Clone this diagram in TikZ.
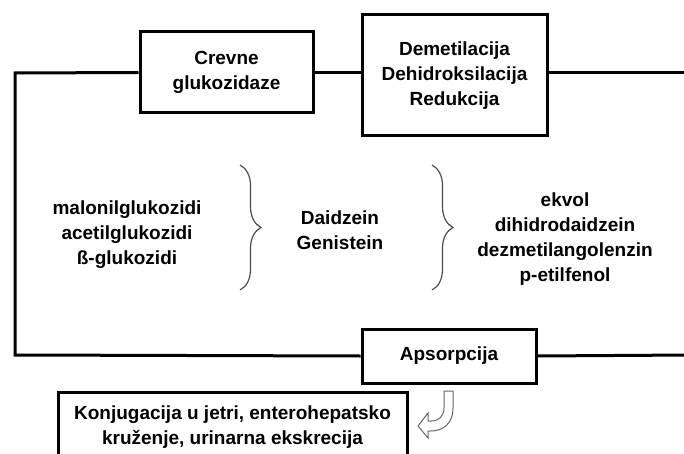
\documentclass[tikz,border=0pt]{standalone}
\usepackage{fontspec}
\setmainfont{Liberation Sans}
\usetikzlibrary{decorations.pathreplacing}

\begin{document}
\begin{tikzpicture}
[x=1pt,y=-1pt,
box/.style={draw,line width=3pt,align=center,inner sep=0pt,
  font=\bfseries\fontsize{19}{25}\selectfont},
label/.style={align=center,font=\bfseries\fontsize{19}{25}\selectfont},
link/.style={line width=3pt,line join=miter},
brace/.style={decorate,decoration={brace,amplitude=21pt},draw=black!70,line width=1.2pt}]
\useasboundingbox (0,0) rectangle (684,454);
\node[box,minimum width=173pt,minimum height=81pt] (crevne) at (226.5,72.5) {Crevne\\glukozidaze};
\node[box,minimum width=185pt,minimum height=121pt] (demet) at (454.5,75.5) {Demetilacija\\Dehidroksilacija\\Redukcija};
\node[box,minimum width=174pt,minimum height=54pt] (apsorp) at (449,356) {Apsorpcija};
\node[box,minimum width=349pt,minimum height=71pt] (konj) at (232.5,427.5) {Konjugacija u jetri, enterohepatsko\\kruženje, urinarna ekskrecija};
\node[label] (glikozidi) at (127,235) {malonilglukozidi\\acetilglukozidi\\ß-glukozidi};
\node[label] (aglikoni) at (340,230.5) {Daidzein\\Genistein};
\node[label] (metaboliti) at (565,239.5) {ekvol\\dihidrodaidzein\\dezmetilangolenzin\\p-etilfenol};
\coordinate (tl) at (15,73);
\coordinate (bl) at (15,355);
\coordinate (tr) at (690,73);
\coordinate (br) at (690,355);
\draw[link] (crevne.west) -- (tl) -- (bl) -- (apsorp.west);
\draw[link] (crevne.east) -- (crevne.east -| demet.west);
\draw[link] (demet.east |- tr) -- (tr);
\draw[link] (apsorp.east) -- (br);
\draw[brace] (240,165) -- (240,290);
\draw[brace] (432,165) -- (432,290);
\draw[fill=white,draw=black!60,line width=1pt] (444,391) -- (453,391) -- (453,408)
  .. controls (453,424) and (443,431) .. (430,431) -- (428,431) -- (428,438)
  -- (418,426) -- (428,413) -- (428,421) -- (431,421)
  .. controls (439,421) and (444,416) .. (444,408) -- cycle;
\end{tikzpicture}
\end{document}
